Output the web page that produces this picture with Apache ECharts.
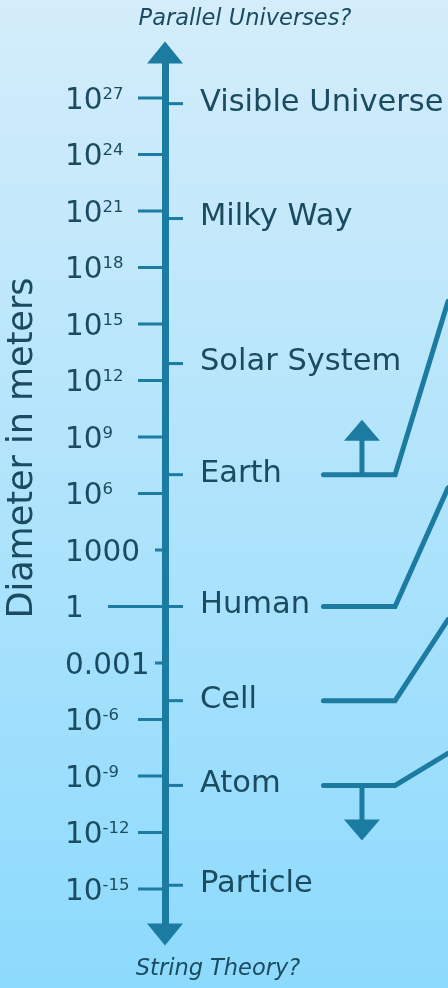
<!DOCTYPE html>
<html>
<head>
<meta charset="utf-8">
<script src="https://cdn.jsdelivr.net/npm/echarts@6/dist/echarts.min.js"></script>
<style>
  html, body { margin: 0; padding: 0; }
  #scale_chart { width: 448px; height: 988px; }
</style>
</head>
<body>
<div id="scale_chart"></div>
<script>
// left axis ticks, log10 of diameter in meters
const tickValues = [27, 24, 21, 18, 15, 12, 9, 6, 3, 0, -3, -6, -9, -12, -15];
const tickLabels = ['10^27', '10^24', '10^21', '10^18', '10^15', '10^12', '10^9', '10^6',
  '1000', '1', '0.001', '10^-6', '10^-9', '10^-12', '10^-15'];

// things on the right side of the axis
const itemNames = ['Visible Universe', 'Milky Way', 'Solar System', 'Earth', 'Human', 'Cell', 'Atom', 'Particle'];
const itemValues = [26.7, 20.6, 12.9, 7.0, 0, -5, -9.5, -14.8];

// callout lines that run off the right edge
const calloutNames = ['Earth', 'Human', 'Cell', 'Atom'];
const calloutTargets = [16.2, 6.3, -0.7, -7.8];
const calloutArrows = ['up', '', '', 'down'];

const AXIS = '#1b7ba1';
const TEXT = '#1b4b60';
const FONT = 'DejaVu Sans';

const myChart = echarts.init(document.getElementById('scale_chart'));

function tickLabel(v) {
  const i = tickValues.indexOf(v);
  if (i < 0) return '';
  const parts = tickLabels[i].split('^');
  return parts.length > 1 ? '{b|' + parts[0] + '}{s|' + parts[1] + '}' : '{b|' + parts[0] + '}';
}

// tick lengths on the left differ where the labels are long/short
const leftTickLen = { '1': 57, '1000': 10, '0.001': 10 };

const option = {
  backgroundColor: {
    type: 'linear', x: 0, y: 0, x2: 0, y2: 1,
    colorStops: [{ offset: 0, color: '#d4edfa' }, { offset: 1, color: '#8cdafd' }]
  },
  title: [
    {
      text: 'Parallel Universes?', left: 245, top: 8, textAlign: 'center', padding: 0,
      textStyle: { fontFamily: FONT, fontStyle: 'italic', fontWeight: 'normal', fontSize: 22.5, color: TEXT }
    },
    {
      text: 'String Theory?', left: 218, top: 958, textAlign: 'center', padding: 0,
      textStyle: { fontFamily: FONT, fontStyle: 'italic', fontWeight: 'normal', fontSize: 22.5, color: TEXT }
    }
  ],
  grid: [
    { left: 165, right: 0, top: 41.5, bottom: 42.5, outerBoundsMode: 'none', containLabel: false },
    { left: 165, right: 0, top: 63.5, bottom: 64.5, outerBoundsMode: 'none', containLabel: false }
  ],
  xAxis: [
    { gridIndex: 0, type: 'value', min: 0, max: 100, show: false },
    { gridIndex: 1, type: 'value', min: 0, max: 100, show: false }
  ],
  yAxis: [
    {
      gridIndex: 0, type: 'value', min: -18, max: 30, interval: 3,
      name: 'Diameter in meters', nameLocation: 'middle', nameRotate: 90, nameGap: 125,
      nameTextStyle: { fontFamily: FONT, fontSize: 35, color: TEXT, padding: [0, 0, 0, 91] },
      axisLine: { show: false }, axisTick: { show: false }, splitLine: { show: false },
      axisLabel: {
        align: 'left', margin: 100, formatter: tickLabel,
        rich: {
          b: { fontFamily: FONT, fontSize: 29.5, color: TEXT, padding: [6, 0, 0, 0] },
          s: { fontFamily: FONT, fontSize: 16.5, color: TEXT, verticalAlign: 'top', padding: [6, 0, 0, 0] }
        }
      }
    },
    {
      gridIndex: 1, type: 'value', min: 0, max: 1,
      axisLine: {
        show: true, symbol: ['triangle', 'triangle'], symbolSize: [36, 22], symbolOffset: [-11, 11],
        lineStyle: { color: AXIS, width: 7 }
      },
      axisTick: { show: false }, axisLabel: { show: false }, splitLine: { show: false }
    }
  ],
  series: [
    {
      name: 'leftTicks', type: 'custom', xAxisIndex: 0, yAxisIndex: 0,
      data: tickValues.map(v => [0, v]),
      encode: { x: 0, y: 1 },
      renderItem: function (params, api) {
        const p = api.coord([0, api.value(1)]);
        const len = leftTickLen[tickLabels[params.dataIndex]] || 27;
        return {
          type: 'line',
          shape: { x1: p[0] - len, y1: p[1], x2: p[0], y2: p[1] },
          style: { stroke: AXIS, lineWidth: 3 }
        };
      }
    },
    {
      name: 'items', type: 'custom', xAxisIndex: 0, yAxisIndex: 0,
      data: itemValues.map(v => [0, v]),
      encode: { x: 0, y: 1 },
      renderItem: function (params, api) {
        const p = api.coord([0, api.value(1)]);
        return {
          type: 'group',
          children: [
            {
              type: 'line',
              shape: { x1: p[0], y1: p[1], x2: p[0] + 18, y2: p[1] },
              style: { stroke: AXIS, lineWidth: 3 }
            },
            {
              type: 'text',
              style: {
                x: p[0] + 35, y: p[1] - 1, text: itemNames[params.dataIndex],
                fill: TEXT, fontFamily: FONT, fontSize: 30.5, align: 'left', verticalAlign: 'middle'
              }
            }
          ]
        };
      }
    },
    {
      name: 'callouts', type: 'custom', xAxisIndex: 0, yAxisIndex: 0,
      data: calloutNames.map((n, i) => [0, itemValues[itemNames.indexOf(n)], calloutTargets[i]]),
      encode: { x: 0, y: 1 },
      renderItem: function (params, api) {
        const y = api.value(1);
        const a = api.coord([56, y]);
        const b = api.coord([81.3, y]);
        const c = api.coord([100, api.value(2)]);
        const children = [{
          type: 'polyline',
          shape: { points: [a, b, c] },
          style: { stroke: AXIS, lineWidth: 5, lineCap: 'round', fill: null }
        }];
        const dir = calloutArrows[params.dataIndex];
        if (dir) {
          const s = dir === 'up' ? -1 : 1;
          const m = api.coord([69.6, y]);
          children.push({
            type: 'line',
            shape: { x1: m[0], y1: m[1], x2: m[0], y2: m[1] + s * 36 },
            style: { stroke: AXIS, lineWidth: 5 }
          });
          children.push({
            type: 'polygon',
            shape: { points: [[m[0] - 18, m[1] + s * 34], [m[0] + 18, m[1] + s * 34], [m[0], m[1] + s * 55]] },
            style: { fill: AXIS }
          });
        }
        return { type: 'group', children: children };
      }
    }
  ]
};

myChart.setOption(option);
</script>
</body>
</html>
